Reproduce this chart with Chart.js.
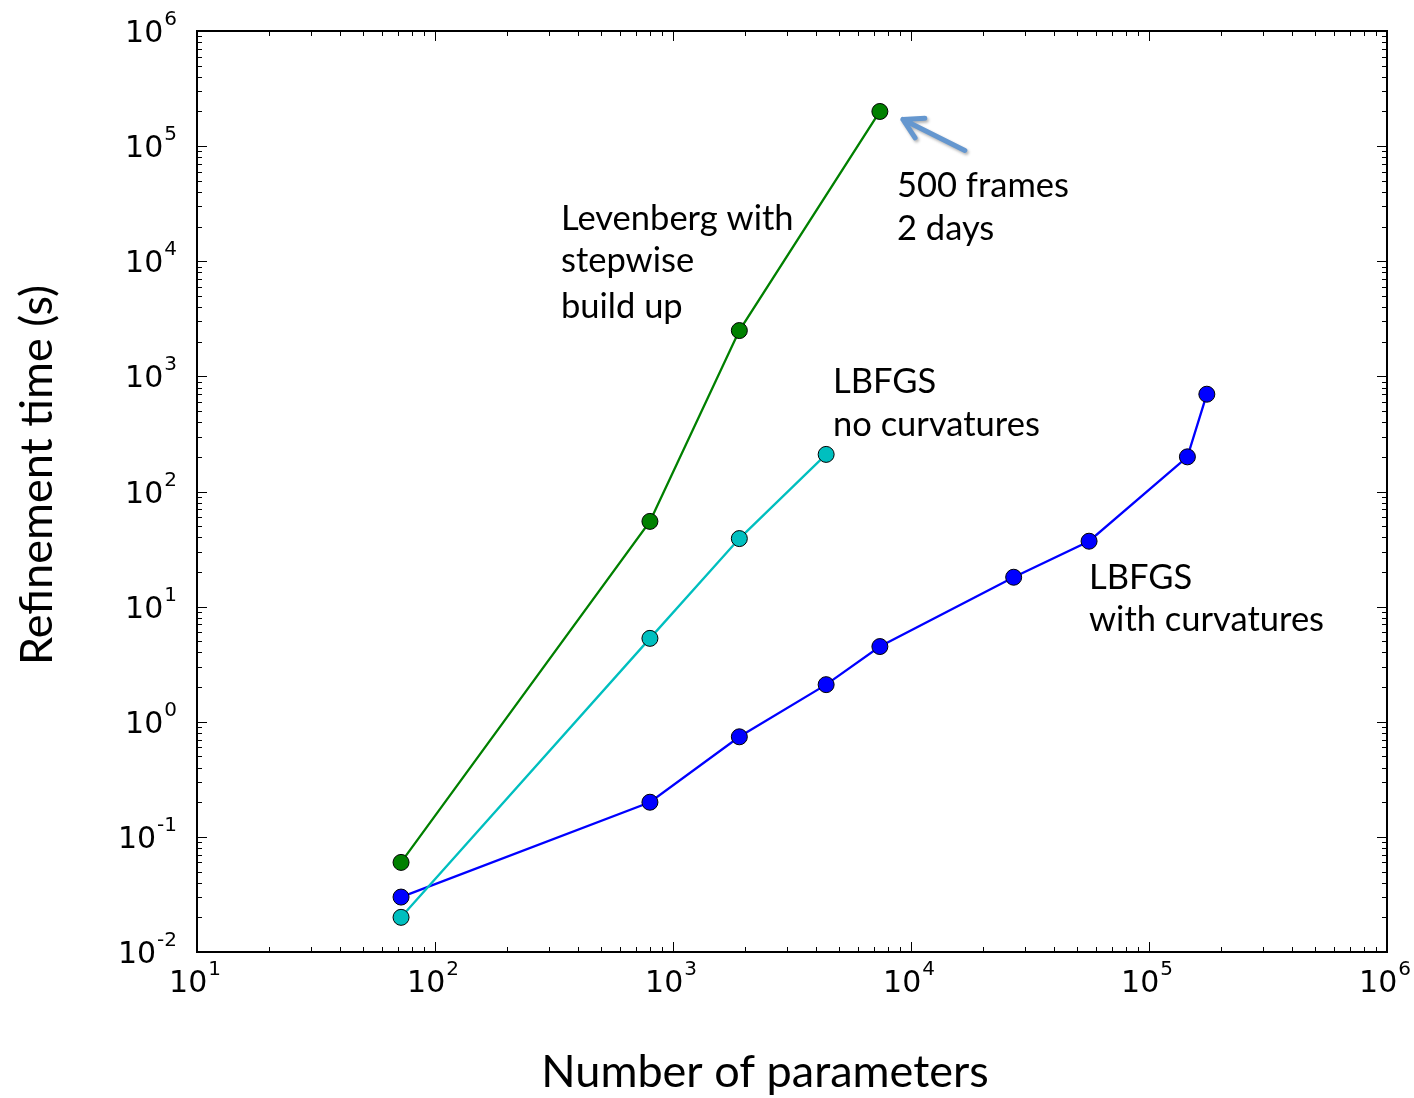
<!DOCTYPE html>
<html lang="en">
<head>
<meta charset="UTF-8">
<title>Refinement time vs number of parameters</title>
<script src="https://cdn.jsdelivr.net/npm/chart.js@4.4.0/dist/chart.umd.min.js"></script>
<style>
  html, body { margin: 0; padding: 0; background: #fff; }
</style>
</head>
<body>
<canvas id="chart" width="1414" height="1098"></canvas>
<script>
// timings per optimiser (x = number of parameters, y = seconds)
const levenbergParams = [72, 800, 1900, 7400];
const levenbergTimes  = [0.06, 55, 2500, 200000];
const noCurvParams    = [72, 800, 1900, 4400];
const noCurvTimes     = [0.02, 5.3, 39, 210];
const curvParams      = [72, 800, 1900, 4400, 7400, 27000, 56000, 145000, 175000];
const curvTimes       = [0.03, 0.2, 0.74, 2.1, 4.5, 18, 37, 200, 700];

// decade exponents for the tick labels
const xExponents = [1, 2, 3, 4, 5, 6];
const yExponents = [-2, -1, 0, 1, 2, 3, 4, 5, 6];

const titleFont = 'Lato';
const tickFont = '"DejaVu Sans"';

function toPoints(xs, ys) {
  return xs.map((x, i) => ({ x: x, y: ys[i] }));
}

function series(label, xs, ys, color) {
  return {
    label: label,
    data: toPoints(xs, ys),
    showLine: true,
    borderColor: color,
    borderWidth: 2.3,
    backgroundColor: color,
    pointBackgroundColor: color,
    pointBorderColor: '#000',
    pointBorderWidth: 1,
    pointRadius: 8,
    pointHoverRadius: 8,
    clip: false
  };
}

// draws the box, the inward ticks, the 10^n labels, titles and notes
const decorations = {
  id: 'decorations',
  afterDraw(chart) {
    const ctx = chart.ctx;
    const a = chart.chartArea;
    const xs = chart.scales.x, ys = chart.scales.y;
    ctx.save();

    // ticks on all four sides, pointing inward
    ctx.strokeStyle = '#000';
    ctx.lineWidth = 1;
    const xFirst = xExponents[0], xLast = xExponents[xExponents.length - 1];
    for (let e = xFirst; e <= xLast; e++) {
      for (let m = 1; m < 10; m++) {
        if (e === xLast && m > 1) break;
        const px = Math.round(xs.getPixelForValue(m * Math.pow(10, e))) + 0.5;
        const len = m === 1 ? 10 : 5;
        ctx.beginPath();
        ctx.moveTo(px, a.bottom); ctx.lineTo(px, a.bottom - len);
        ctx.moveTo(px, a.top); ctx.lineTo(px, a.top + len);
        ctx.stroke();
      }
    }
    const yFirst = yExponents[0], yLast = yExponents[yExponents.length - 1];
    for (let e = yFirst; e <= yLast; e++) {
      for (let m = 1; m < 10; m++) {
        if (e === yLast && m > 1) break;
        const py = Math.round(ys.getPixelForValue(m * Math.pow(10, e))) + 0.5;
        const len = m === 1 ? 10 : 5;
        ctx.beginPath();
        ctx.moveTo(a.left, py); ctx.lineTo(a.left + len, py);
        ctx.moveTo(a.right, py); ctx.lineTo(a.right - len, py);
        ctx.stroke();
      }
    }

    // frame
    ctx.lineWidth = 2;
    ctx.strokeRect(a.left, a.top, a.right - a.left, a.bottom - a.top);

    // 10^n labels
    ctx.fillStyle = '#000';
    ctx.textBaseline = 'alphabetic';
    ctx.textAlign = 'left';
    const big = '30px ' + tickFont, small = '20px ' + tickFont;
    function power(e, left, base) {
      ctx.font = big;
      ctx.fillText('10', left, base);
      const w = ctx.measureText('10').width;
      ctx.font = small;
      ctx.fillText(String(e), left + w + 1, base - 17);
    }
    function powerWidth(e) {
      ctx.font = big;
      const w = ctx.measureText('10').width;
      ctx.font = small;
      return w + 1 + ctx.measureText(String(e)).width;
    }
    xExponents.forEach(e => {
      const px = xs.getPixelForValue(Math.pow(10, e));
      power(e, px - powerWidth(e) / 2 - 2, a.bottom + 40);
    });
    yExponents.forEach(e => {
      const py = ys.getPixelForValue(Math.pow(10, e));
      power(e, a.left - 20 - powerWidth(e), py + 11);
    });

    // axis titles
    ctx.font = '45px ' + titleFont;
    ctx.textAlign = 'center';
    ctx.fillText('Number of parameters', (a.left + a.right) / 2 - 27, 1087);
    ctx.save();
    ctx.translate(52, 475);
    ctx.rotate(-Math.PI / 2);
    ctx.fillText('Refinement time (s)', 0, 0);
    ctx.restore();

    // notes next to the curves
    ctx.font = '34.5px ' + titleFont;
    ctx.textAlign = 'left';
    const notes = [
      [561, 230, 'Levenberg with'], [561, 272, 'stepwise'], [561, 318, 'build up'],
      [897, 197, '500 frames'], [897, 240, '2 days'],
      [833, 393, 'LBFGS'], [833, 436, 'no curvatures'],
      [1089, 589, 'LBFGS'], [1089, 631, 'with curvatures']
    ];
    notes.forEach(n => ctx.fillText(n[2], n[0], n[1]));

    // arrow pointing at the last Levenberg run
    const last = levenbergParams.length - 1;
    const gx = xs.getPixelForValue(levenbergParams[last]);
    const gy = ys.getPixelForValue(levenbergTimes[last]);
    const tip = { x: gx + 23, y: gy + 8 };
    const tail = { x: gx + 85, y: gy + 39 };
    const ang = Math.atan2(tail.y - tip.y, tail.x - tip.x);
    ctx.strokeStyle = '#6597cf';
    ctx.lineWidth = 5;
    ctx.lineCap = 'round';
    ctx.lineJoin = 'round';
    ctx.shadowColor = 'rgba(0,0,0,0.3)';
    ctx.shadowBlur = 3;
    ctx.shadowOffsetX = 1.5;
    ctx.shadowOffsetY = 2;
    ctx.beginPath();
    ctx.moveTo(tail.x, tail.y);
    ctx.lineTo(tip.x, tip.y);
    ctx.moveTo(tip.x + 22 * Math.cos(ang - 0.52), tip.y + 22 * Math.sin(ang - 0.52));
    ctx.lineTo(tip.x, tip.y);
    ctx.lineTo(tip.x + 22 * Math.cos(ang + 0.52), tip.y + 22 * Math.sin(ang + 0.52));
    ctx.stroke();

    ctx.restore();
  }
};

new Chart(document.getElementById('chart').getContext('2d'), {
  type: 'scatter',
  data: {
    datasets: [
      series('Levenberg with stepwise build up', levenbergParams, levenbergTimes, '#008000'),
      series('LBFGS no curvatures', noCurvParams, noCurvTimes, '#00bfbf'),
      series('LBFGS with curvatures', curvParams, curvTimes, '#0000ff')
    ]
  },
  options: {
    responsive: false,
    animation: false,
    layout: { padding: { left: 197, top: 31, right: 27, bottom: 146 } },
    plugins: { legend: { display: false }, tooltip: { enabled: false } },
    scales: {
      x: { type: 'logarithmic', min: 10, max: 1e6, display: false },
      y: { type: 'logarithmic', min: 0.01, max: 1e6, display: false }
    }
  },
  plugins: [decorations]
});
</script>
</body>
</html>
